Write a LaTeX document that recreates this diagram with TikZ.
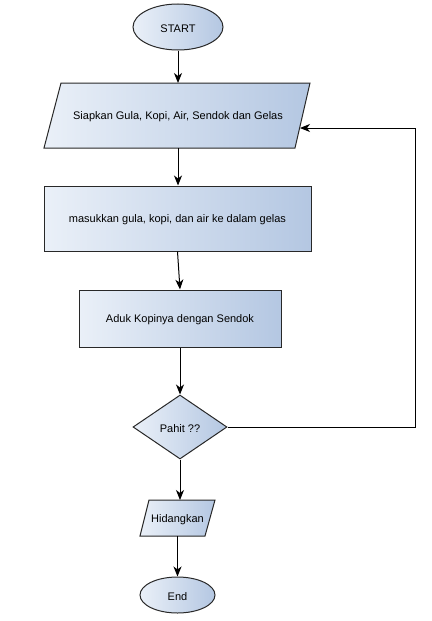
\documentclass[tikz,border=0pt]{standalone}
\usepackage{fontspec}
\setmainfont{Liberation Sans}
\usetikzlibrary{shapes.geometric,arrows.meta}
\definecolor{cA}{RGB}{234,240,248}
\definecolor{cB}{RGB}{180,199,226}
\definecolor{ln}{RGB}{40,40,40}
\begin{document}
\begin{tikzpicture}[x=1pt,y=-1pt,
  fl/.style={draw=ln, line width=1pt, left color=cA, right color=cB},
  txt/.style={font=\fontsize{11}{13}\selectfont, inner sep=0pt, yshift=-1.5pt},
  ghost/.style={draw=none, fill=none, inner sep=0pt},
  arr/.style={-{Stealth[length=10pt,width=8pt,inset=3pt]}, line width=1pt, draw=black}
]
\useasboundingbox (0,0) rectangle (431,621);
% START
\node[fl, ellipse, minimum width=90pt, minimum height=46pt, inner sep=0pt] (start) at (178,27) {};
\node[txt] (tstart) at (178,27) {START};
% Parallelogram 1
\path[fl] (61,83) -- (310,83) -- (295,148) -- (44,148) -- cycle;
\node[ghost, minimum width=266pt, minimum height=65pt] (p1) at (177.5,115.5) {};
\node[txt] (tp1) at (178,115.5) {Siapkan Gula, Kopi, Air, Sendok dan Gelas};
\coordinate (p1in) at (300,128);
% Rectangle 2
\node[fl, rectangle, minimum width=267pt, minimum height=65pt, inner sep=0pt] (r2) at (177.5,218.5) {};
\node[txt] (tr2) at (177.5,218.5) {masukkan gula, kopi, dan air ke dalam gelas};
% Rectangle 3
\node[fl, rectangle, minimum width=202pt, minimum height=57pt, inner sep=0pt] (r3) at (180,318.5) {};
\node[txt] (tr3) at (180,318.5) {Aduk Kopinya dengan Sendok};
% Diamond
\node[fl, diamond, aspect=1.47, minimum width=94pt, minimum height=64pt, inner sep=0pt] (d) at (180,427) {};
\node[txt] (td) at (180,427) {Pahit ??};
% Hidangkan
\path[fl] (149,500) -- (215,500) -- (205,536) -- (140,536) -- cycle;
\node[ghost, minimum width=75pt, minimum height=36pt] (h) at (177.5,518) {};
\node[txt] (th) at (177.5,518) {Hidangkan};
% End
\node[fl, ellipse, minimum width=75pt, minimum height=36pt, inner sep=0pt] (end) at (177.5,595) {};
\node[txt] (tend) at (177.5,595) {End};
% connectors
\draw[arr] (start.south) -- (178,83);
\draw[arr] (178,148) -- (r2.north -| 178,0);
\draw[arr] (r2.south) -- (r3.north);
\draw[arr] (r3.south) -- (d.north);
\draw[arr] (d.south) -- (180,500);
\draw[arr] (h.south) -- (end.north);
\coordinate (k1) at (415,427);
\coordinate (k2) at (415,128);
\draw[arr] (d.east) -- (k1) -- (k2) -- (p1in);
\end{tikzpicture}
\end{document}
